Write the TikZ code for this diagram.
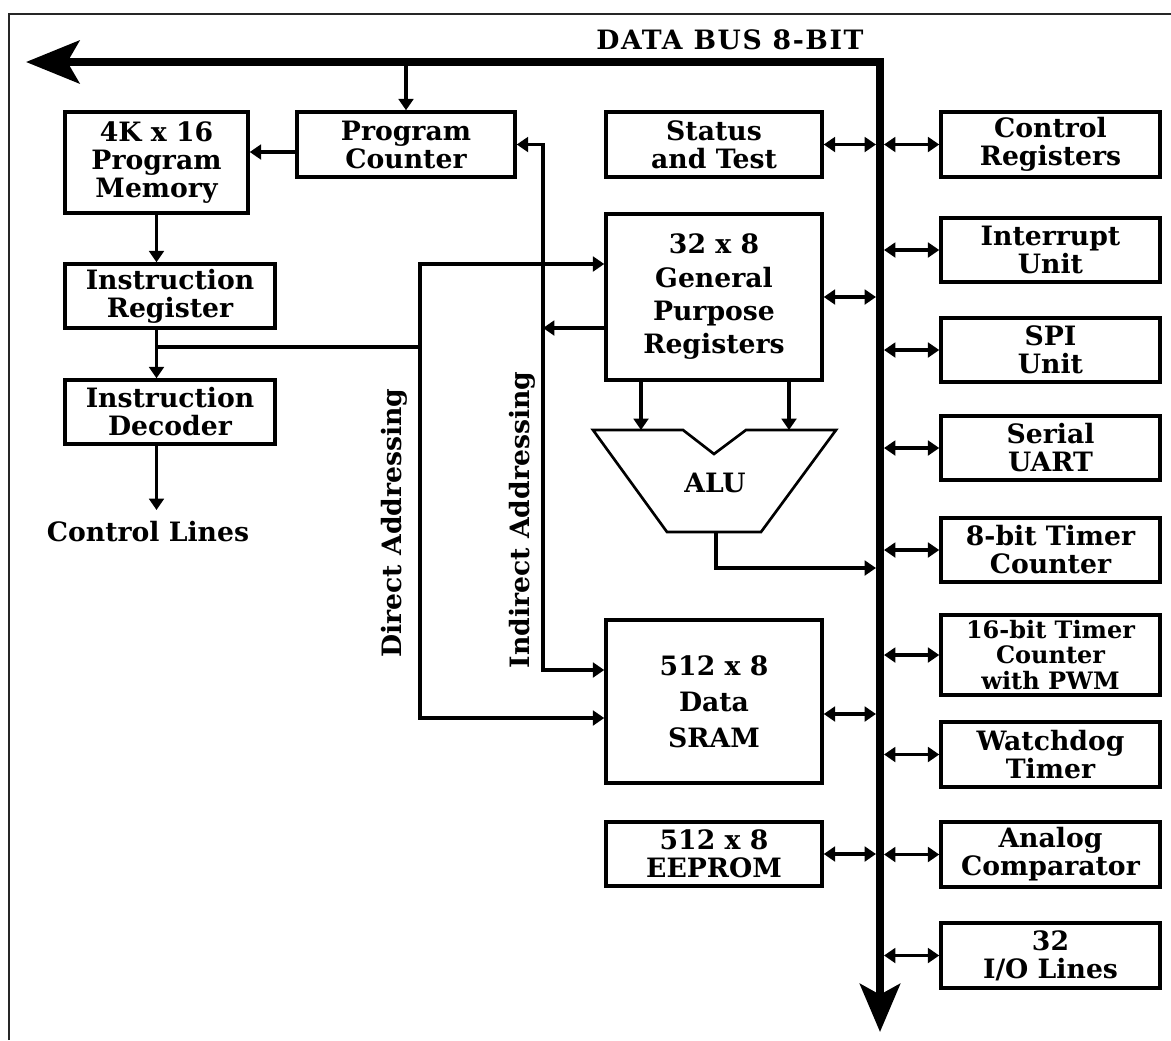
\documentclass[tikz,border=0pt]{standalone}
\usepackage{fontspec}
\setmainfont{DejaVu Serif}
\usetikzlibrary{arrows.meta}
\begin{document}
\begin{tikzpicture}[x=0.75pt,y=-0.75pt,
  every node/.style={font=\fontsize{20}{21}\selectfont\bfseries},
  blk/.style={draw, line width=2.6pt, inner sep=0pt, align=center},
  ln/.style={line width=2.5pt, line join=miter},
  arr/.style={ln, -{Triangle[length=8.5pt,width=11pt]}},
  bi/.style={ln, {Triangle[length=8.5pt,width=11pt]}-{Triangle[length=8.5pt,width=11pt]}},
  bus/.style={line width=6pt, line join=miter,
    {Stealth[length=40pt,width=32pt,inset=9pt]}-{Stealth[length=36pt,width=30pt,inset=8pt]}},
  frame/.style={line width=2.2pt, draw=black!85}
]
\useasboundingbox (0,0) rectangle (1171,1040);
% frame
\draw[frame] (9,1040) -- (9,14) -- (1171,14);

% bus
\coordinate (busL) at (26,62);
\coordinate (busC) at (880,62);
\coordinate (busB) at (880,1032);
\coordinate (bl) at (876,0);
\coordinate (br) at (884,0);
\draw[bus] (busL) -- (busC) -- (busB);
\node[font=\fontsize{20}{21}\selectfont\bfseries\addfontfeature{LetterSpace=6}] (title) at (730,40) {DATA BUS 8-BIT};

% left column
\node[blk, minimum width=137.25pt, minimum height=75.75pt] (pm) at (156.5,162.5) {4K x 16\\Program\\Memory};
\node[blk, minimum width=163.5pt, minimum height=48.75pt] (pc) at (406,144.5) {Program\\Counter};
\node[blk, minimum width=157.5pt, minimum height=48pt] (ir) at (170,296) {Instruction\\Register};
\node[blk, minimum width=157.5pt, minimum height=48pt] (id) at (170,412) {Instruction\\Decoder};
\node (cl) at (148,532) {Control Lines};

% middle column
\node[blk, minimum width=162pt, minimum height=48.75pt] (st) at (714,144.5) {Status\\and Test};
\node[blk, minimum width=162pt, minimum height=124.5pt, font=\fontsize{20}{25}\selectfont\bfseries] (gpr) at (714,297) {32 x 8\\General\\Purpose\\Registers};
\node[blk, minimum width=162pt, minimum height=122.25pt, font=\fontsize{20}{27}\selectfont\bfseries] (sram) at (714,701.5) {512 x 8\\Data\\SRAM};
\node[blk, minimum width=162pt, minimum height=48pt] (ee) at (714,854) {512 x 8\\EEPROM};

% right column
\node[blk, minimum width=164.25pt, minimum height=48.75pt] (cr) at (1050.5,144.5) {Control\\Registers};
\node[blk, minimum width=164.25pt, minimum height=48pt] (iu) at (1050.5,250) {Interrupt\\Unit};
\node[blk, minimum width=164.25pt, minimum height=48pt] (spi) at (1050.5,350) {SPI\\Unit};
\node[blk, minimum width=164.25pt, minimum height=48pt] (uart) at (1050.5,448) {Serial\\UART};
\node[blk, minimum width=164.25pt, minimum height=48pt] (t8) at (1050.5,550) {8-bit Timer\\Counter};
\node[blk, minimum width=164.25pt, minimum height=60pt, font=\fontsize{18}{19}\selectfont\bfseries] (t16) at (1050.5,655) {16-bit Timer\\Counter\\with PWM};
\node[blk, minimum width=164.25pt, minimum height=48.75pt] (wd) at (1050.5,754.5) {Watchdog\\Timer};
\node[blk, minimum width=164.25pt, minimum height=48.75pt] (ac) at (1050.5,854.5) {Analog\\Comparator};
\node[blk, minimum width=164.25pt, minimum height=48.75pt] (io) at (1050.5,955.5) {32\\I/O Lines};

% ALU
\coordinate (a1) at (641,430);
\coordinate (a2) at (789,430);
\coordinate (alub) at (716,532);
\draw[line width=2pt, line join=miter] (593,430) -- (683,430) -- (714,454) -- (746,430) -- (836,430) -- (761,532) -- (667,532) -- cycle;
\node (alu) at (715,483) {ALU};
\draw[arr] (gpr.south -| a1) -- (a1);
\draw[arr] (gpr.south -| a2) -- (a2);
\coordinate (yA) at (0,568);
\draw[arr] (alub) -- (alub |- yA) -- (bl |- yA);

% program flow
\coordinate (yPM) at (0,152);
\draw[arr] (pc.north |- busC) -- (pc.north);
\draw[arr] (pc.west |- yPM) -- (pm.east |- yPM);
\draw[arr] (pm.south) -- (ir.north -| pm.south);
\draw[arr] (ir.south -| pm.south) -- (id.north -| pm.south);
\coordinate (ctl) at (156.5,510);
\draw[arr] (id.south -| pm.south) -- (ctl);

% direct addressing
\coordinate (j1) at (156.5,347);
\coordinate (dx) at (420,347);
\coordinate (yG) at (0,264);
\coordinate (yS1) at (0,718);
\draw[ln] (j1) -- (dx);
\draw[bi] (gpr.west |- yG) -| (dx) |- (sram.west |- yS1);
\node[rotate=90] (dlab) at (394,523) {Direct Addressing};

% indirect addressing
\coordinate (ix) at (543,0);
\coordinate (yG2) at (0,328);
\coordinate (yS2) at (0,670);
\draw[bi] (pc.east) -- (pc.east -| ix) -- (ix |- yS2) -- (sram.west |- yS2);
\draw[arr] (gpr.west |- yG2) -- (ix |- yG2);
\node[rotate=90] (ilab) at (522,520) {Indirect Addressing};

% bus connections, middle
\draw[bi] (st.east) -- (st.east -| bl);
\draw[bi] (gpr.east) -- (gpr.east -| bl);
\coordinate (ySR) at (0,714);
\draw[bi] (sram.east |- ySR) -- (bl |- ySR);
\draw[bi] (ee.east) -- (ee.east -| bl);

% bus connections, right
\foreach \n in {cr,iu,spi,uart,t8,t16,wd,ac,io}
  \draw[bi] (\n.west -| br) -- (\n.west);
\end{tikzpicture}
\end{document}
